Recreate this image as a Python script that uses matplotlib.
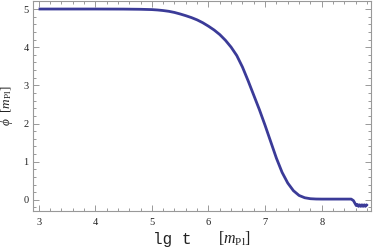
import matplotlib
matplotlib.use("Agg")
import matplotlib.pyplot as plt
from matplotlib.ticker import MultipleLocator

# field value phi vs log10 of time
lg_t = [3.0, 3.5, 4.0, 4.5, 4.8, 5.0, 5.1, 5.2, 5.3, 5.4, 5.5, 5.6, 5.7,
        5.8, 5.9, 6.0, 6.1, 6.2, 6.3, 6.4, 6.5, 6.6, 6.7, 6.8, 6.9, 7.0,
        7.1, 7.2, 7.3, 7.4, 7.5, 7.6, 7.7, 7.8, 7.9, 8.0, 8.2, 8.4, 8.52,
        8.56, 8.59, 8.61, 8.63, 8.65, 8.67, 8.69, 8.71, 8.73, 8.75,
        8.77, 8.79, 8.81]
phi = [5.0, 5.0, 5.0, 4.998, 4.993, 4.985, 4.975, 4.96, 4.94, 4.91, 4.87, 4.825, 4.775,
       4.715, 4.64, 4.55, 4.45, 4.33, 4.18, 4.0, 3.78, 3.48, 3.12, 2.74, 2.36, 1.95,
       1.52, 1.09, 0.72, 0.44, 0.24, 0.115, 0.055, 0.03, 0.022, 0.02, 0.02, 0.02, 0.02,
       -0.02, -0.1, -0.15, -0.12, -0.17, -0.13, -0.17, -0.13, -0.17, -0.13,
       -0.17, -0.13, -0.16]

x_ticks = [3, 4, 5, 6, 7, 8]
y_ticks = [0, 1, 2, 3, 4, 5]

plt.rcParams['mathtext.fontset'] = 'custom'
plt.rcParams['mathtext.rm'] = 'Liberation Serif'
plt.rcParams['mathtext.it'] = 'Liberation Serif:italic'

fig = plt.figure(figsize=(3.74, 2.52), dpi=100)
ax = fig.add_axes([0.088, 0.163, 0.904, 0.833])

ax.plot(lg_t, phi, color='#3b3b98', lw=2.0, solid_capstyle='butt',
        solid_joinstyle='round')

ax.set_xlim(2.9, 8.87)
ax.set_ylim(-0.29, 5.21)
ax.set_xticks(x_ticks)
ax.set_yticks(y_ticks)
ax.xaxis.set_minor_locator(MultipleLocator(0.2))
ax.yaxis.set_minor_locator(MultipleLocator(0.2))

grey = '#999999'
for s in ax.spines.values():
    s.set_color(grey)
    s.set_linewidth(0.8)
ax.tick_params(which='both', direction='in', top=True, right=True, color=grey,
               width=0.7, labelsize=7.5, pad=3)
ax.tick_params(axis='x', which='major', pad=5)
ax.tick_params(which='major', length=4)
ax.tick_params(which='minor', length=2)
for lab in ax.get_xticklabels() + ax.get_yticklabels():
    lab.set_fontfamily('Liberation Serif')
    lab.set_color('#222222')

# x label: monospace "lg t" followed by serif unit
fig.text(0.409, 0.032, 'lg t', family='Liberation Mono', fontsize=11.5,
         color='#222222', ha='left', va='baseline')
fig.text(0.583, 0.032, r'$[m_{\rm Pl}]$', fontsize=11.5,
         color='#222222', ha='left', va='baseline')
ax.set_ylabel(r'$\phi\ \ [m_{\rm Pl}]$', fontsize=9.5, color='#222222', labelpad=6)

fig.savefig('out.png', dpi=100)
